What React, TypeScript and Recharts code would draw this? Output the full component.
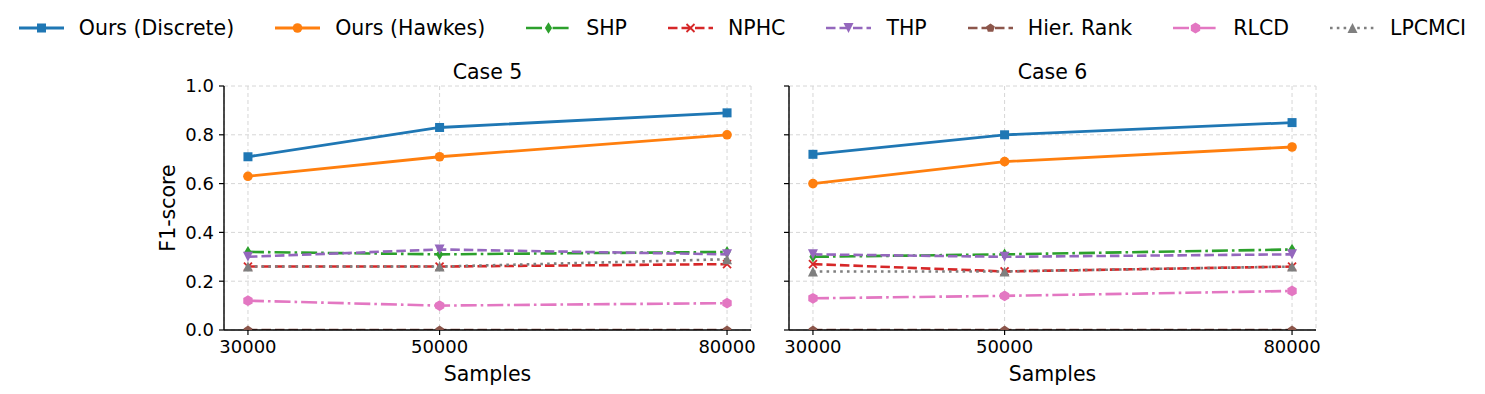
import React from 'react';
import { LineChart, Line, XAxis, YAxis, CartesianGrid } from 'recharts';

const samples = [30000, 50000, 80000];
const sampleTicks = [30000, 50000, 80000];
const scoreTicks = [0, 0.2, 0.4, 0.6, 0.8, 1.0];

const seriesNames = ['Ours (Discrete)', 'Ours (Hawkes)', 'SHP', 'NPHC', 'THP', 'Hier. Rank', 'RLCD', 'LPCMCI'];

// Case 5
const case5Discrete = [0.71, 0.83, 0.89];
const case5Hawkes = [0.63, 0.71, 0.8];
const case5Shp = [0.32, 0.31, 0.32];
const case5Nphc = [0.26, 0.26, 0.27];
const case5Thp = [0.3, 0.33, 0.31];
const case5Hier = [0, 0, 0];
const case5Rlcd = [0.12, 0.1, 0.11];
const case5Lpcmci = [0.26, 0.26, 0.29];

// Case 6
const case6Discrete = [0.72, 0.8, 0.85];
const case6Hawkes = [0.6, 0.69, 0.75];
const case6Shp = [0.3, 0.31, 0.33];
const case6Nphc = [0.27, 0.24, 0.26];
const case6Thp = [0.31, 0.3, 0.31];
const case6Hier = [0, 0, 0];
const case6Rlcd = [0.13, 0.14, 0.16];
const case6Lpcmci = [0.24, 0.24, 0.26];

const FONT = '"DejaVu Sans", sans-serif';
const KEYS = ['discrete', 'hawkes', 'shp', 'nphc', 'thp', 'hier', 'rlcd', 'lpcmci'];

type MarkerKind = 'square' | 'circle' | 'thinDiamond' | 'x' | 'triDown' | 'pentagon' | 'hexagon' | 'triUp';

const STYLES: { color: string; dash?: string; marker: MarkerKind; width: number }[] = [
  { color: '#1f77b4', marker: 'square', width: 2.8 },
  { color: '#ff7f0e', marker: 'circle', width: 2.8 },
  { color: '#2ca02c', dash: '16 4 2.6 4', marker: 'thinDiamond', width: 2.6 },
  { color: '#d62728', dash: '9.5 4', marker: 'x', width: 2.6 },
  { color: '#9467bd', dash: '9.5 4', marker: 'triDown', width: 2.6 },
  { color: '#8c564b', dash: '9.5 4', marker: 'pentagon', width: 2.6 },
  { color: '#e377c2', dash: '16 4 2.6 4', marker: 'hexagon', width: 2.6 },
  { color: '#7f7f7f', dash: '2.6 4.2', marker: 'triUp', width: 2.6 },
];

const buildRows = (cols: number[][]) =>
  samples.map((s, i) => {
    const row: Record<string, number> = { samples: s };
    KEYS.forEach((k, j) => (row[k] = cols[j][i]));
    return row;
  });

const case5Rows = buildRows([case5Discrete, case5Hawkes, case5Shp, case5Nphc, case5Thp, case5Hier, case5Rlcd, case5Lpcmci]);
const case6Rows = buildRows([case6Discrete, case6Hawkes, case6Shp, case6Nphc, case6Thp, case6Hier, case6Rlcd, case6Lpcmci]);

const poly = (cx: number, cy: number, r: number, n: number, rot: number) =>
  Array.from({ length: n }, (_, i) => {
    const a = rot + (i * 2 * Math.PI) / n;
    return `${cx + r * Math.cos(a)},${cy + r * Math.sin(a)}`;
  }).join(' ');

function Marker({ kind, cx, cy, color }: { kind: MarkerKind; cx: number; cy: number; color: string }) {
  switch (kind) {
    case 'square':
      return <rect x={cx - 4.5} y={cy - 4.5} width={9} height={9} fill={color} />;
    case 'circle':
      return <circle cx={cx} cy={cy} r={4.8} fill={color} />;
    case 'thinDiamond':
      return <polygon points={`${cx},${cy - 5.8} ${cx + 3.6},${cy} ${cx},${cy + 5.8} ${cx - 3.6},${cy}`} fill={color} />;
    case 'x':
      return (
        <g stroke={color} strokeWidth={1.8}>
          <line x1={cx - 4} y1={cy - 4} x2={cx + 4} y2={cy + 4} />
          <line x1={cx - 4} y1={cy + 4} x2={cx + 4} y2={cy - 4} />
        </g>
      );
    case 'triDown':
      return <polygon points={`${cx - 5},${cy - 5} ${cx + 5},${cy - 5} ${cx},${cy + 5}`} fill={color} />;
    case 'triUp':
      return <polygon points={`${cx - 5},${cy + 5} ${cx + 5},${cy + 5} ${cx},${cy - 5}`} fill={color} />;
    case 'pentagon':
      return <polygon points={poly(cx, cy, 4.6, 5, -Math.PI / 2)} fill={color} />;
    case 'hexagon':
      return <polygon points={poly(cx, cy, 5.4, 6, -Math.PI / 2)} fill={color} />;
  }
  return null;
}

const makeDot = (kind: MarkerKind, color: string) => (p: any) => {
  if (p.cx == null || p.cy == null) return <g key={`d${p.index}`} />;
  return (
    <g key={`d${p.index}`}>
      <Marker kind={kind} cx={p.cx} cy={p.cy} color={color} />
    </g>
  );
};

function Panel({ rows, left, width, showY, marginLeft, marginRight }: any) {
  return (
    <div style={{ position: 'absolute', left, top: 0 }}>
      <LineChart
        width={width}
        height={394}
        data={rows}
        margin={{ top: 86, right: marginRight, bottom: 34, left: marginLeft }}
      >
        <CartesianGrid stroke="#d6d6d6" strokeDasharray="4 3" strokeWidth={1} />
        <XAxis
          dataKey="samples"
          type="number"
          domain={[27500, 82500]}
          ticks={sampleTicks}
          allowDataOverflow
          height={30}
          tickSize={5}
          tickMargin={5}
          axisLine={{ stroke: '#000', strokeWidth: 1.4 }}
          tickLine={{ stroke: '#000', strokeWidth: 1.2 }}
          tick={{ fill: '#000', fontSize: 18, fontFamily: FONT }}
        />
        <YAxis
          type="number"
          domain={[0, 1]}
          ticks={scoreTicks}
          allowDataOverflow
          width={60}
          tickSize={5}
          tickMargin={5}
          tickFormatter={(v: number) => (showY ? v.toFixed(1) : '')}
          axisLine={{ stroke: '#000', strokeWidth: 1.4 }}
          tickLine={{ stroke: '#000', strokeWidth: 1.2 }}
          tick={{ fill: '#000', fontSize: 18, fontFamily: FONT }}
        />
        {KEYS.map((k, i) => (
          <Line
            key={k}
            dataKey={k}
            name={seriesNames[i]}
            type="linear"
            stroke={STYLES[i].color}
            strokeWidth={STYLES[i].width}
            strokeDasharray={STYLES[i].dash}
            dot={makeDot(STYLES[i].marker, STYLES[i].color)}
            activeDot={false}
            isAnimationActive={false}
          />
        ))}
      </LineChart>
    </div>
  );
}

function LegendRow() {
  return (
    <div
      style={{
        position: 'absolute',
        left: 0,
        top: 14,
        width: 1485,
        display: 'flex',
        justifyContent: 'center',
        fontFamily: FONT,
        fontSize: 20.5,
        lineHeight: '28px',
        color: '#000',
      }}
    >
      {seriesNames.map((n, i) => (
        <div key={n} style={{ display: 'flex', alignItems: 'center', marginLeft: i === 0 ? 0 : 41 }}>
          <svg width={45} height={20} style={{ marginRight: 15 }}>
            <line
              x1={0}
              y1={10}
              x2={45}
              y2={10}
              stroke={STYLES[i].color}
              strokeWidth={STYLES[i].width}
              strokeDasharray={STYLES[i].dash}
            />
            <Marker kind={STYLES[i].marker} cx={22.5} cy={10} color={STYLES[i].color} />
          </svg>
          <span>{n}</span>
        </div>
      ))}
    </div>
  );
}

const textStyle: React.CSSProperties = {
  position: 'absolute',
  fontFamily: FONT,
  fontSize: 20.5,
  lineHeight: '20.5px',
  color: '#000',
  whiteSpace: 'nowrap',
  transform: 'translateX(-50%)',
};

export default function App() {
  return (
    <div style={{ position: 'absolute', left: 0, top: 0, width: 1485, height: 394, background: '#fff', overflow: 'hidden' }}>
      <LegendRow />
      <Panel rows={case5Rows} left={0} width={760} showY marginLeft={164} marginRight={9} />
      <Panel rows={case6Rows} left={760} width={725} showY={false} marginLeft={-31} marginRight={169} />
      <div style={{ ...textStyle, left: 487.5, top: 62 }}>Case 5</div>
      <div style={{ ...textStyle, left: 1052.5, top: 62 }}>Case 6</div>
      <div style={{ ...textStyle, left: 487.5, top: 364 }}>Samples</div>
      <div style={{ ...textStyle, left: 1052.5, top: 364 }}>Samples</div>
      <div
        style={{
          ...textStyle,
          left: 168,
          top: 208,
          transform: 'translate(-50%, -50%) rotate(-90deg)',
        }}
      >
        F1-score
      </div>
    </div>
  );
}
